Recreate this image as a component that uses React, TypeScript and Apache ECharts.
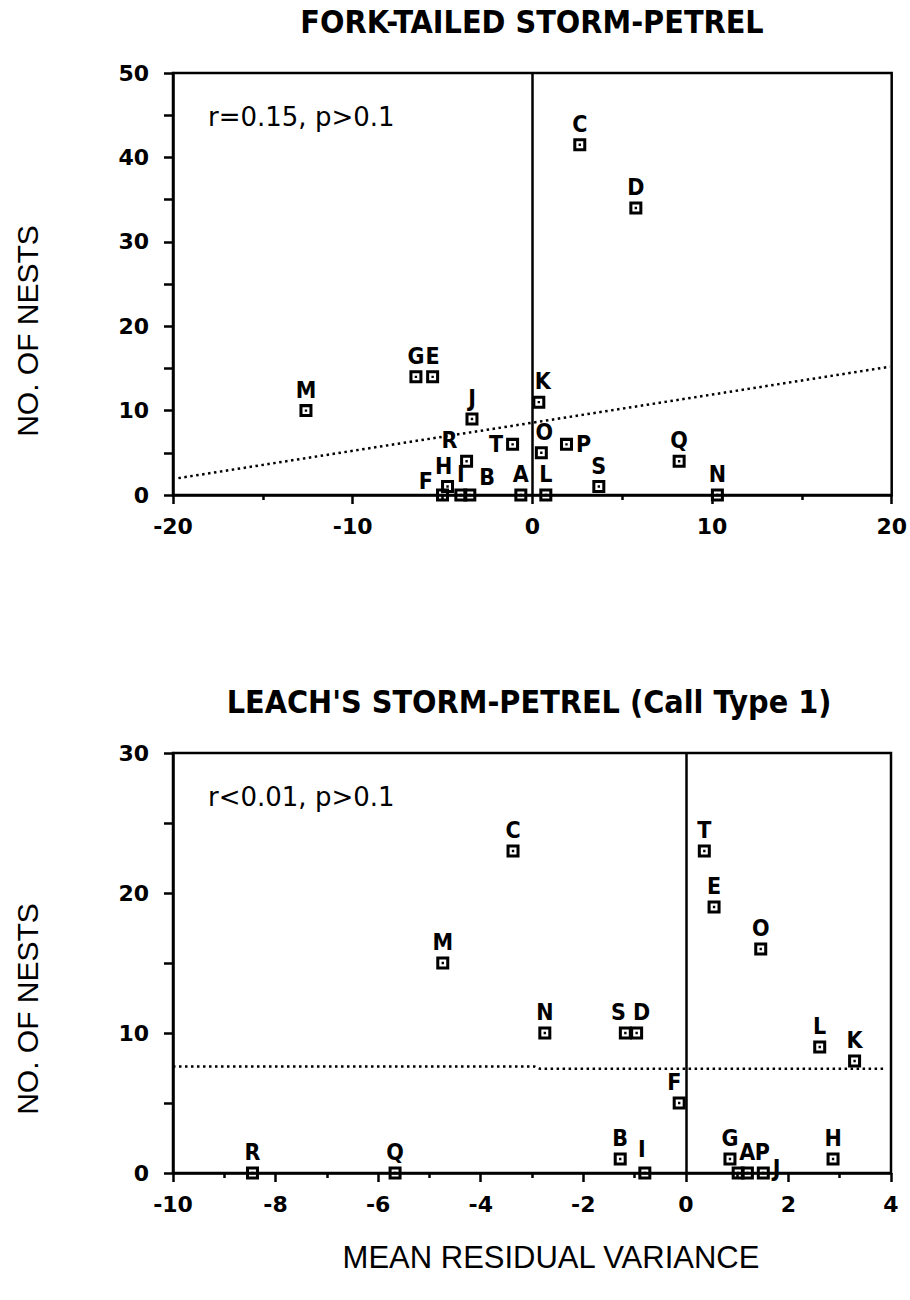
import React, { useEffect, useRef } from "react";
import * as echarts from "echarts";

// ---------- Data ----------
const speciesNames = ["A", "B", "C", "D", "E", "F", "G", "H", "I", "J", "K", "L", "M", "N", "O", "P", "Q", "R", "S", "T"];

// Fork-tailed Storm-Petrel
const forkX = [-0.64, -3.48, 2.64, 5.76, -5.55, -5.0, -6.48, -4.72, -3.98, -3.36, 0.36, 0.75, -12.6, 10.3, 0.5, 1.9, 8.17, -3.66, 3.7, -1.1];
const forkY = [0, 0, 41.5, 34, 14, 0, 14, 1, 0, 9, 11, 0, 10, 0, 5, 6, 4, 4, 1, 6];
const forkFitX = [-19.7, 19.9];
const forkFitY = [2.0, 15.2];

// Leach's Storm-Petrel (Call Type 1)
const leachX = [1.02, -1.28, -3.37, -0.96, 0.55, -0.13, 0.86, 2.87, -0.8, 1.51, 3.29, 2.61, -4.74, -2.75, 1.46, 1.2, -5.67, -8.45, -1.18, 0.36];
const leachY = [0, 1, 23, 10, 19, 5, 1, 1, 0, 0, 8, 9, 15, 10, 16, 0, 0, 0, 10, 23];
const leachFitX = [-10, -2.95, -2.85, 3.85];
const leachFitY = [7.6, 7.6, 7.45, 7.45];

const forkTicksX = [-20, 20, 10];
const forkTicksY = [0, 50, 10];
const leachTicksX = [-10, 4, 2];
const leachTicksY = [0, 30, 10];

// label placement (style only)
const forkLabelPlace: Record<string, [string, number, number]> = {
  F: ["left", 0, -14],
  H: ["top", -4, 0],
  B: ["right", 0, -18],
  T: ["left", 0, 0],
  R: ["top", -17, 0],
  P: ["right", 0, 0],
  K: ["top", 4, 0],
  O: ["top", 3, 0],
};
const leachLabelPlace: Record<string, [string, number, number]> = {
  S: ["top", -7, 0],
  D: ["top", 5, 0],
  F: ["top", -5, 0],
  I: ["top", -3, -3],
  A: ["top", 9, 0],
  P: ["top", 15, 0],
  J: ["right", 0, -5],
};

const SQUARE = "path://M0,0H12V12H0Z M2.8,2.8V9.2H9.2V2.8Z M4.9,4.9H7.1V7.1H4.9Z";
const LETTER_FONT = '"Liberation Sans Narrow", "DejaVu Sans Condensed", sans-serif';
const TICK_FONT = '"DejaVu Sans", sans-serif';

function buildPoints(xs: number[], ys: number[], place: Record<string, [string, number, number]>) {
  return speciesNames.map((n, i) => {
    const p = place[n] || ["top", 0, 0];
    return {
      name: n,
      value: [xs[i], ys[i]],
      label: { position: p[0], offset: [p[1], p[2]] },
    };
  });
}

function axisCommonX(t: number[], minorLen: number) {
  return {
    type: "value",
    min: t[0],
    max: t[1],
    interval: t[2],
    axisLine: { show: true, onZero: false, lineStyle: { color: "#000", width: 2.5 } },
    axisTick: { show: true, length: 9, lineStyle: { color: "#000", width: 2.5 } },
    minorTick: { show: true, splitNumber: 2, length: minorLen, lineStyle: { color: "#000", width: 2.5 } },
    splitLine: { show: false },
    minorSplitLine: { show: false },
    axisLabel: { margin: 20, color: "#000", fontFamily: TICK_FONT, fontWeight: "bold", fontSize: 22 },
  };
}
function axisCommonY(t: number[]) {
  return {
    type: "value",
    min: t[0],
    max: t[1],
    interval: t[2],
    axisLine: { show: true, onZero: false, lineStyle: { color: "#000", width: 2.5 } },
    axisTick: { show: true, length: 9, lineStyle: { color: "#000", width: 2.5 } },
    minorTick: { show: true, splitNumber: 2, length: 9, lineStyle: { color: "#000", width: 2.5 } },
    splitLine: { show: false },
    minorSplitLine: { show: false },
    axisLabel: { margin: 24, color: "#000", fontFamily: TICK_FONT, fontWeight: "bold", fontSize: 22 },
  };
}

function scatterSeries(idx: number, data: any[]) {
  return {
    type: "scatter",
    xAxisIndex: idx,
    yAxisIndex: idx,
    symbol: SQUARE,
    symbolSize: 13,
    itemStyle: { color: "#000", opacity: 1 },
    label: {
      show: true,
      formatter: "{b}",
      distance: 3,
      color: "#000",
      fontFamily: LETTER_FONT,
      fontWeight: "bold",
      fontSize: 23,
    },
    data,
    z: 5,
    markLine: {
      silent: true,
      symbol: ["none", "none"],
      label: { show: false },
      lineStyle: { color: "#000", width: 2.5, type: "solid" },
      data: [{ xAxis: 0 }],
    },
  };
}

function fitSeries(idx: number, xs: number[], ys: number[]) {
  return {
    type: "line",
    xAxisIndex: idx,
    yAxisIndex: idx,
    showSymbol: false,
    symbol: "none",
    data: xs.map((x, i) => [x, ys[i]]),
    lineStyle: { color: "#000", width: 2.5, type: [2.5, 3.5] },
    z: 3,
  };
}

function textEl(text: string, x: number, y: number, font: string, rotation = 0, align = "center") {
  return {
    type: "text",
    x,
    y,
    rotation,
    style: {
      text,
      font,
      fill: "#000",
      textAlign: align,
      textVerticalAlign: "middle",
      align,
      verticalAlign: "middle",
    },
  };
}

export default function App() {
  const ref = useRef<HTMLDivElement>(null);
  useEffect(() => {
    if (!ref.current) return;
    const chart = echarts.init(ref.current, undefined, { renderer: "svg" });
    const option: any = {
      animation: false,
      backgroundColor: "#fff",
      grid: [
        { left: 173, top: 73, width: 719, height: 422, show: true, borderColor: "#000", borderWidth: 2.5, backgroundColor: "transparent" },
        { left: 173, top: 753, width: 718, height: 420, show: true, borderColor: "#000", borderWidth: 2.5, backgroundColor: "transparent" },
      ],
      xAxis: [
        { gridIndex: 0, ...axisCommonX(forkTicksX, 5) },
        { gridIndex: 1, ...axisCommonX(leachTicksX, 5) },
      ],
      yAxis: [
        { gridIndex: 0, ...axisCommonY(forkTicksY) },
        { gridIndex: 1, ...axisCommonY(leachTicksY) },
      ],
      series: [
        fitSeries(0, forkFitX, forkFitY),
        scatterSeries(0, buildPoints(forkX, forkY, forkLabelPlace)),
        fitSeries(1, leachFitX, leachFitY),
        scatterSeries(1, buildPoints(leachX, leachY, leachLabelPlace)),
      ],
      graphic: [
        textEl("FORK-TAILED STORM-PETREL", 532, 22, 'bold 32px "DejaVu Sans Condensed"'),
        textEl("LEACH'S STORM-PETREL (Call Type 1)", 529, 702, 'bold 32px "DejaVu Sans Condensed"'),
        textEl("r=0.15, p>0.1", 208, 117, '26px "DejaVu Sans"', 0, "left"),
        textEl("r<0.01, p>0.1", 208, 797, '26px "DejaVu Sans"', 0, "left"),
        textEl("NO. OF NESTS", 27, 331, '30px "Liberation Sans"', Math.PI / 2),
        textEl("NO. OF NESTS", 27, 1009, '30px "Liberation Sans"', Math.PI / 2),
        textEl("MEAN RESIDUAL VARIANCE", 551, 1257, '31px "Liberation Sans"'),
      ],
    };
    chart.setOption(option);
    return () => chart.dispose();
  }, []);
  return <div ref={ref} style={{ position: "absolute", left: 0, top: 0, width: 910, height: 1300, background: "#fff" }} />;
}
